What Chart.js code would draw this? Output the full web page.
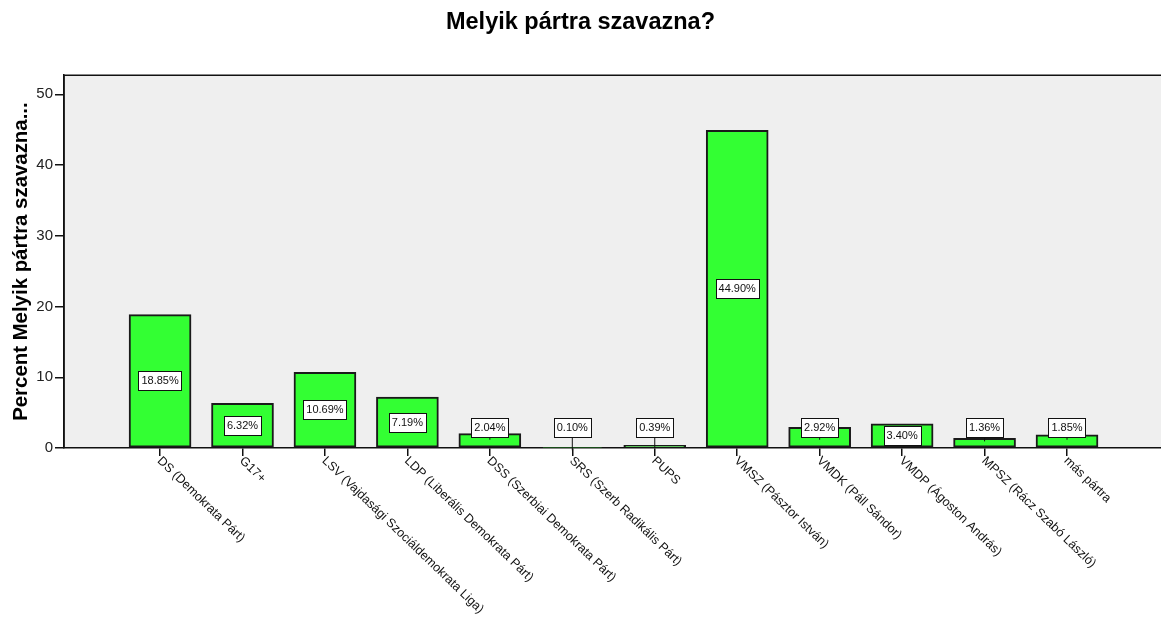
<!DOCTYPE html>
<html>
<head>
<meta charset="utf-8">
<script src="https://cdn.jsdelivr.net/npm/chart.js@4/dist/chart.umd.min.js"></script>
<style>
  html, body { margin: 0; padding: 0; background: #ffffff; }
  #wrap { width: 1161px; height: 621px; }
</style>
</head>
<body>
<div id="wrap"><canvas id="c" width="1161" height="621"></canvas></div>
<script>
const chartTitle = 'Melyik pártra szavazna?';
const yAxisTitle = 'Percent Melyik pártra szavazna...';
const categories = [
  'DS (Demokrata Párt)',
  'G17+',
  'LSV (Vajdasági Szociáldemokrata Liga)',
  'LDP (Liberális Demokrata Párt)',
  'DSS (Szerbiai Demokrata Párt)',
  'SRS (Szerb Radikális Párt)',
  'PUPS',
  'VMSZ (Pásztor István)',
  'VMDK (Páll Sándor)',
  'VMDP (Ágoston András)',
  'MPSZ (Rácz Szabó László)',
  'más pártra'
];
const percentValues = [18.85, 6.32, 10.69, 7.19, 2.04, 0.10, 0.39, 44.90, 2.92, 3.40, 1.36, 1.85];
const yTickValues = [0, 10, 20, 30, 40, 50];

const FONT = 'Arial, "Liberation Sans", sans-serif';

const plotBgAndBorder = {
  id: 'plotBgAndBorder',
  beforeDraw(chart) {
    const {ctx, chartArea: a} = chart;
    ctx.save();
    ctx.fillStyle = '#efefef';
    ctx.fillRect(a.left, a.top, a.right - a.left, a.bottom - a.top);
    ctx.restore();
  },
  afterDraw(chart) {
    const {ctx, chartArea: a} = chart;
    ctx.save();
    ctx.strokeStyle = '#111';
    ctx.lineWidth = 1.5;
    ctx.beginPath();
    ctx.moveTo(a.left, a.bottom);
    ctx.lineTo(a.left, a.top);
    ctx.lineTo(a.right, a.top);
    ctx.stroke();
    ctx.restore();
  }
};

const valueBoxes = {
  id: 'valueBoxes',
  afterDatasetsDraw(chart) {
    const {ctx} = chart;
    const meta = chart.getDatasetMeta(0);
    ctx.save();
    ctx.font = '11px ' + FONT;
    ctx.textAlign = 'center';
    ctx.textBaseline = 'middle';
    const boxH = 19;
    meta.data.forEach((bar, i) => {
      const txt = percentValues[i].toFixed(2) + '%';
      const w = ctx.measureText(txt).width + 6;
      const hgt = bar.base - bar.y;
      let cy;
      if (hgt >= boxH + 4) {
        cy = (bar.y + bar.base) / 2;
      } else {
        cy = bar.base - 20;
        ctx.strokeStyle = '#111';
        ctx.lineWidth = 1;
        ctx.beginPath();
        ctx.moveTo(bar.x, cy + boxH / 2);
        ctx.lineTo(bar.x, Math.max(bar.y, cy + boxH / 2) + 3);
        ctx.stroke();
      }
      const x0 = Math.round(bar.x - w / 2) + 0.5;
      const y0 = Math.round(cy - boxH / 2) + 0.5;
      ctx.fillStyle = '#ffffff';
      ctx.fillRect(x0, y0, Math.round(w), boxH);
      ctx.strokeStyle = '#111';
      ctx.lineWidth = 1;
      ctx.strokeRect(x0, y0, Math.round(w), boxH);
      ctx.fillStyle = '#111';
      ctx.fillText(txt, bar.x, cy + 0.5);
    });
    ctx.restore();
  }
};

const rotatedXLabels = {
  id: 'rotatedXLabels',
  afterDraw(chart) {
    const {ctx} = chart;
    const xs = chart.scales.x;
    const a = chart.chartArea;
    ctx.save();
    ctx.font = '12.5px ' + FONT;
    ctx.fillStyle = '#111';
    ctx.textAlign = 'left';
    ctx.textBaseline = 'middle';
    categories.forEach((lab, i) => {
      const px = xs.getPixelForValue(i);
      ctx.save();
      ctx.translate(px - 1, a.bottom + 11);
      ctx.rotate(44 * Math.PI / 180);
      ctx.fillText(lab, 0, 0);
      ctx.restore();
    });
    ctx.restore();
  }
};

new Chart(document.getElementById('c'), {
  type: 'bar',
  data: {
    datasets: [{
      data: percentValues.map((v, i) => ({x: i, y: v})),
      backgroundColor: '#33ff33',
      borderColor: '#1a1a1a',
      borderWidth: 2,
      borderSkipped: false,
      barThickness: 62
    }]
  },
  options: {
    responsive: false,
    animation: false,
    devicePixelRatio: 1,
    layout: { padding: 0 },
    plugins: {
      legend: { display: false },
      tooltip: { enabled: false },
      title: {
        display: true,
        text: chartTitle,
        color: '#000',
        font: { family: FONT, size: 23.5, weight: 'bold' },
        padding: { top: 8, bottom: 39 }
      }
    },
    scales: {
      x: {
        type: 'linear',
        offset: false,
        min: -1.165,
        max: 12.14,
        afterBuildTicks(scale) {
          scale.ticks = categories.map((_, i) => ({value: i}));
        },
        afterFit(scale) { scale.height = 173; },
        ticks: { display: false },
        grid: {
          display: true,
          offset: false,
          drawOnChartArea: false,
          drawTicks: true,
          tickLength: 8,
          color: '#111',
          lineWidth: 1.5
        },
        border: { display: true, color: '#111', width: 1.5 }
      },
      y: {
        min: 0,
        max: 52.7,
        afterBuildTicks(scale) {
          scale.ticks = yTickValues.map(v => ({value: v}));
        },
        afterFit(scale) { scale.width = 64; },
        ticks: {
          color: '#222',
          font: { family: FONT, size: 15 },
          padding: 2
        },
        grid: {
          display: true,
          drawOnChartArea: false,
          drawTicks: true,
          tickLength: 9,
          color: '#111',
          lineWidth: 1.5
        },
        border: { display: true, color: '#111', width: 1.5 },
        title: {
          display: true,
          text: yAxisTitle,
          color: '#000',
          font: { family: FONT, size: 20.4, weight: 'bold' },
          padding: { top: 9, bottom: 0 }
        }
      }
    }
  },
  plugins: [plotBgAndBorder, valueBoxes, rotatedXLabels]
});
</script>
</body>
</html>
